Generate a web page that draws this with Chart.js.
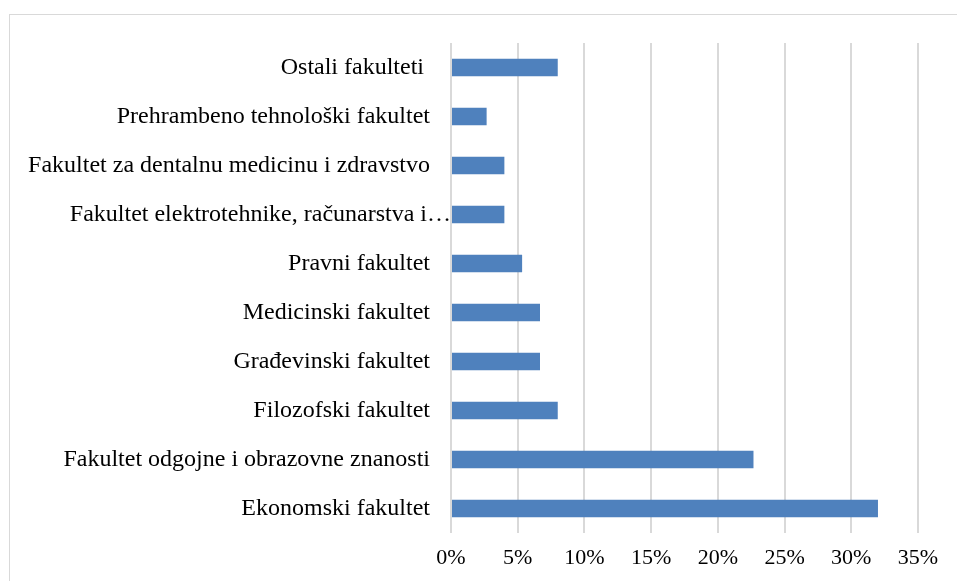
<!DOCTYPE html>
<html>
<head>
<meta charset="utf-8">
<script src="https://cdn.jsdelivr.net/npm/chart.js@4.4.1/dist/chart.umd.min.js"></script>
<style>
    html, body { margin: 0; padding: 0; background: #fff; overflow: hidden; }
    .frame {
        position: absolute; left: 9px; top: 14px; width: 990px; height: 620px;
        border: 1.5px solid #d9d9d9; box-sizing: border-box;
    }
    #faculty-chart { position: absolute; left: 0; top: 0; }
</style>
</head>
<body>
<div class="frame"></div>
<canvas id="faculty-chart" width="957" height="581"></canvas>
<script>
// Faculties, top to bottom as shown
const faculties = [
    'Ostali fakulteti ',
    'Prehrambeno tehnološki fakultet',
    'Fakultet za dentalnu medicinu i zdravstvo',
    'Fakultet elektrotehnike, računarstva i…',
    'Pravni fakultet',
    'Medicinski fakultet',
    'Građevinski fakultet',
    'Filozofski fakultet',
    'Fakultet odgojne i obrazovne znanosti',
    'Ekonomski fakultet'
];
// Share of respondents (%)
const shares = [8, 2.67, 4, 4, 5.33, 6.67, 6.67, 8, 22.67, 32];
const xTicks = [0, 5, 10, 15, 20, 25, 30, 35];

const serif = '"Liberation Serif", "Times New Roman", serif';

// Draws the category labels left of the axis, the cut-off one runs up to the axis like in Excel
const categoryLabelsPlugin = {
    id: 'categoryLabels',
    afterDraw(chart) {
        const yScale = chart.scales['y'];
        const xScale = chart.scales['x'];
        const ctx = chart.ctx;
        const axisX = xScale.getPixelForValue(0);
        ctx.save();
        ctx.font = '24px ' + serif;
        ctx.fillStyle = '#000';
        ctx.textAlign = 'right';
        ctx.textBaseline = 'middle';
        faculties.forEach((label, i) => {
            const y = yScale.getPixelForValue(i);
            const x = label.endsWith('…') ? axisX : axisX - 21;
            ctx.fillText(label, x, y);
        });
        ctx.restore();
    }
};

new Chart(document.getElementById('faculty-chart').getContext('2d'), {
    type: 'bar',
    data: {
        labels: faculties,
        datasets: [{
            data: shares,
            backgroundColor: '#4f81bd',
            borderWidth: 0,
            categoryPercentage: 1,
            barPercentage: 0.36
        }]
    },
    options: {
        indexAxis: 'y',
        responsive: false,
        animation: false,
        layout: { padding: { left: 451, right: 39, top: 43, bottom: 0 } },
        scales: {
            x: {
                min: 0,
                max: 35,
                afterBuildTicks(scale) {
                    scale.ticks = xTicks.map(v => ({ value: v }));
                },
                afterFit(scale) {
                    scale.height = 48;
                },
                border: { display: false },
                grid: { color: '#d9d9d9', lineWidth: 2, drawTicks: false },
                ticks: {
                    padding: 12,
                    color: '#000',
                    maxRotation: 0,
                    font: { family: serif, size: 22 },
                    callback: v => v + '%'
                }
            },
            y: {
                display: false
            }
        },
        plugins: {
            legend: { display: false },
            tooltip: { enabled: false }
        }
    },
    plugins: [categoryLabelsPlugin]
});
</script>
</body>
</html>
